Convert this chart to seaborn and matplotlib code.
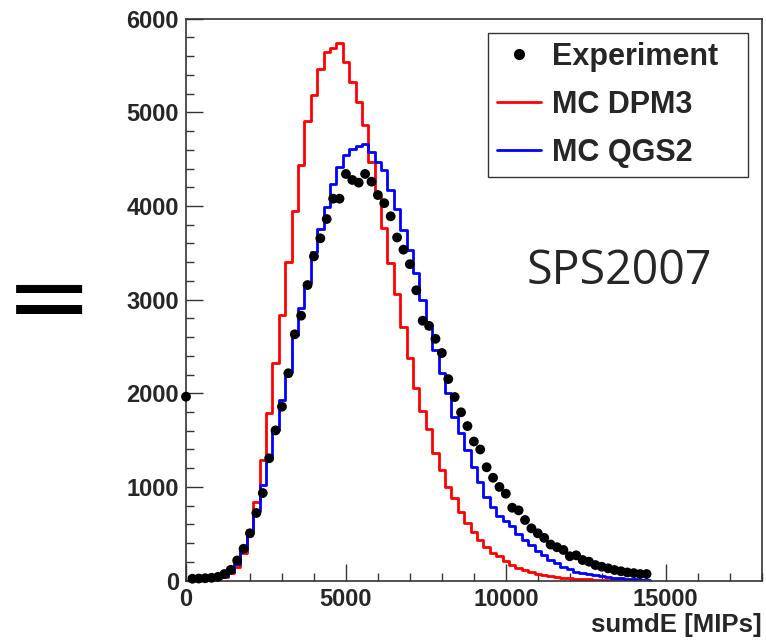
import numpy as np
import pandas as pd
import matplotlib
matplotlib.use("Agg")
import matplotlib.pyplot as plt
import seaborn as sns
from matplotlib.lines import Line2D
from matplotlib.ticker import MultipleLocator

# ---------------- data ----------------
bin_width = 200
bin_centers = np.arange(0, 14600, bin_width)          # 73 bins, centres 0..14400
bin_range = (-100, 14500)

experiment = [1964, 20, 22, 25, 30, 40, 70, 115, 215, 340,
              505, 722, 935, 1306, 1604, 1857, 2214, 2630, 2829, 3156,
              3462, 3655, 3861, 4078, 4078, 4342, 4278, 4249, 4342, 4260,
              4117, 4030, 3890, 3664, 3534, 3379, 3100, 2775, 2720, 2582,
              2430, 2152, 1960, 1797, 1650, 1485, 1400, 1210, 1098, 1000,
              928, 778, 750, 647, 558, 505, 456, 385, 356, 327,
              260, 270, 220, 202, 166, 148, 131, 113, 100, 87,
              80, 70, 70]

mc_dpm3 = [0, 2, 5, 10, 15, 25, 42, 78, 145, 300,
           540, 838, 1288, 1786, 2320, 2836, 3399, 3950, 4438, 4911,
           5185, 5460, 5648, 5684, 5744, 5534, 5327, 5107, 4860, 4468,
           4099, 3770, 3396, 3055, 2711, 2374, 2060, 1810, 1622, 1359,
           1183, 1003, 879, 736, 612, 522, 434, 362, 292, 258,
           205, 168, 137, 110, 90, 72, 58, 47, 38, 31,
           25, 20, 16, 13, 10, 8, 6, 5, 4, 3,
           2, 2, 1]

mc_qgs2 = [0, 5, 8, 12, 18, 28, 50, 95, 180, 330,
           520, 745, 1021, 1306, 1608, 1928, 2231, 2623, 2910, 3174,
           3510, 3752, 3993, 4230, 4420, 4540, 4610, 4640, 4660, 4575,
           4473, 4384, 4171, 3968, 3744, 3530, 3284, 2996, 2694, 2462,
           2213, 2000, 1750, 1573, 1395, 1210, 1056, 896, 789, 690,
           640, 580, 500, 435, 380, 315, 273, 220, 185, 148,
           121, 95, 84, 70, 58, 48, 38, 30, 24, 18,
           13, 9, 6]

series_labels = ["Experiment", "MC DPM3", "MC QGS2"]
x_label = "sumdE [MIPs]"
annotation = "SPS2007"
side_sign = "="

df = pd.DataFrame({"sumdE": bin_centers, "exp": experiment,
                   "dpm3": mc_dpm3, "qgs2": mc_qgs2})

# ---------------- style ----------------
sns.set_style("ticks")
plt.rcParams["font.family"] = ["Liberation Sans", "DejaVu Sans"]
plt.rcParams["font.weight"] = "bold"

fig = plt.figure(figsize=(7.66, 6.40), dpi=100)
ax = fig.add_axes([186 / 766, 1 - 580.6 / 640, 575.7 / 766, 561.9 / 640])

sns.histplot(data=df, x="sumdE", weights="dpm3", binwidth=bin_width,
             binrange=bin_range, element="step", fill=False,
             color="#ff0000", linewidth=2.0, ax=ax)
sns.histplot(data=df, x="sumdE", weights="qgs2", binwidth=bin_width,
             binrange=bin_range, element="step", fill=False,
             color="#0000ff", linewidth=2.0, ax=ax)
sns.scatterplot(data=df, x="sumdE", y="exp", color="black", s=50,
                edgecolor="none", ax=ax, zorder=5, clip_on=False)

ax.set_xlim(0, 18000)
ax.set_ylim(0, 6000)
ax.xaxis.set_major_locator(MultipleLocator(5000))
ax.xaxis.set_minor_locator(MultipleLocator(1000))
ax.yaxis.set_major_locator(MultipleLocator(1000))
ax.yaxis.set_minor_locator(MultipleLocator(200))
ax.tick_params(which="both", direction="in", color="#333333", top=False, right=False)
ax.tick_params(which="major", length=12, width=1.0, labelsize=17, pad=5)
ax.tick_params(which="minor", length=6, width=1.0)
for lab in ax.get_xticklabels() + ax.get_yticklabels():
    lab.set_fontweight("bold")
for sp in ax.spines.values():
    sp.set_color("#333333")
    sp.set_linewidth(1.2)

ax.set_ylabel("")
ax.set_xlabel(x_label, fontsize=18.5, fontweight="bold", loc="right", labelpad=2)

handles = [Line2D([], [], marker="o", color="black", linestyle="none", markersize=7),
           Line2D([], [], color="#ff0000", linewidth=2),
           Line2D([], [], color="#0000ff", linewidth=2)]
x0 = (488 - 186) / 575.7
x1 = (748 - 186) / 575.7
y1 = 1 - (33 - 18.7) / 561.9
y0 = 1 - (172 - 18.7) / 561.9
leg = ax.legend(handles, series_labels, loc="upper left",
                bbox_to_anchor=(x0, y0, x1 - x0, y1 - y0), mode="expand",
                fancybox=False, framealpha=1,
                edgecolor="#333333", prop={"size": 22, "weight": "bold"},
                handlelength=1.45, handletextpad=0.33, labelspacing=0.58,
                borderpad=0.3, borderaxespad=0)
leg.get_frame().set_linewidth(1.0)

ax.text((527 - 186) / 575.7, 1 - (284 - 18.7) / 561.9, annotation,
        transform=ax.transAxes, fontsize=33.5, fontweight="normal",
        family=["Open Sans", "DejaVu Sans"], va="baseline", ha="left")

fig.text(49 / 766, 1 - 303.4 / 640, side_sign, fontsize=76, fontweight="normal",
         family=["DejaVu Sans"], color="black", ha="center", va="center")

fig.savefig("out.png", dpi=100)
